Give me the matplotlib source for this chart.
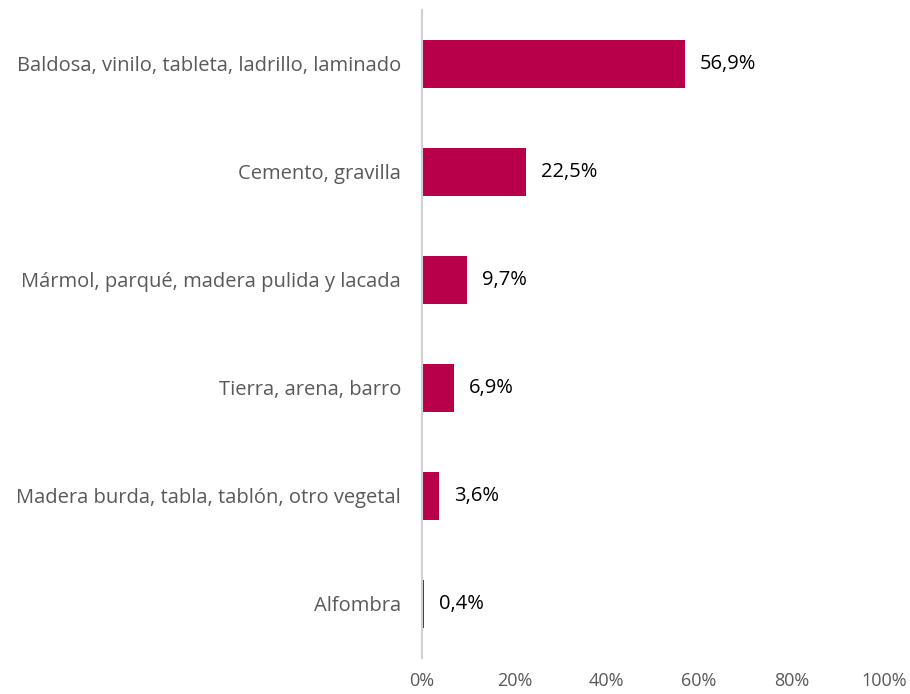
import matplotlib.pyplot as plt

categories = [
    "Baldosa, vinilo, tableta, ladrillo, laminado",
    "Cemento, gravilla",
    "Mármol, parqué, madera pulida y lacada",
    "Tierra, arena, barro",
    "Madera burda, tabla, tablón, otro vegetal",
    "Alfombra",
]
values = [56.9, 22.5, 9.7, 6.9, 3.6, 0.4]
xticks = [0, 20, 40, 60, 80, 100]

plt.rcParams['font.family'] = ['Open Sans', 'DejaVu Sans']

fig = plt.figure(figsize=(9.1, 6.94), dpi=100)
ax = fig.add_axes([0.4637, 0.0519, 0.5077, 0.9337])

ypos = list(range(len(categories)))
ax.barh(ypos, values, height=0.45, color='#B8004A')
for y, v in zip(ypos, values):
    ax.text(v + 3.3, y, f"{v:.1f}%".replace('.', ','), va='center', ha='left',
            fontsize=14.5, color='#000000')

ax.set_ylim(len(categories) - 0.5, -0.5)
ax.set_xlim(0, 100)
ax.set_yticks(ypos)
ax.set_yticklabels(categories, fontsize=14.5, color='#595959')
ax.set_xticks(xticks)
ax.set_xticklabels([f"{t}%" for t in xticks], fontsize=13, color='#595959')
ax.tick_params(axis='y', length=0, pad=15)
ax.tick_params(axis='x', length=0, pad=10)

for s in ['top', 'right', 'bottom']:
    ax.spines[s].set_visible(False)
ax.spines['left'].set_color('#D0D0D0')
ax.spines['left'].set_linewidth(1.5)

fig.savefig('out.png', dpi=100)
